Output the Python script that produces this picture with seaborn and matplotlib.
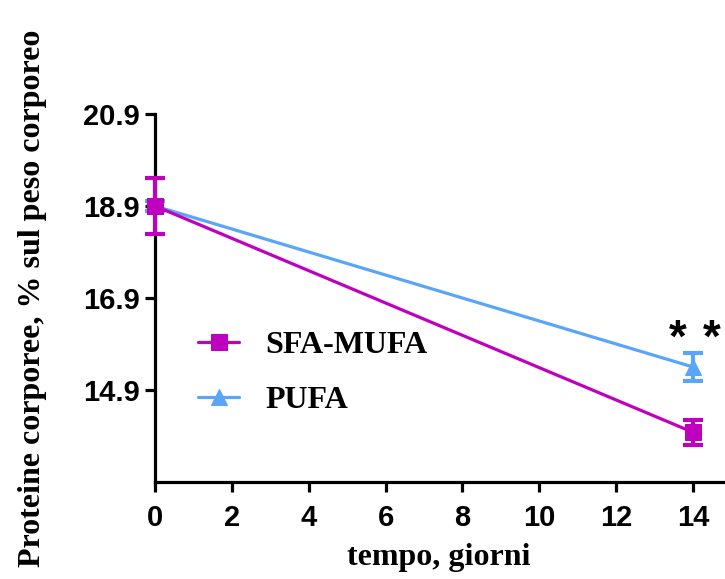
import matplotlib
matplotlib.use("Agg")
import matplotlib.pyplot as plt
import seaborn as sns
import pandas as pd

# Data
days = [0, 14]
sfa_mufa = [18.9, 13.98]
sfa_mufa_err = [0.6, 0.27]
pufa = [18.9, 15.4]
pufa_err = [0.1, 0.3]
series_names = ["SFA-MUFA", "PUFA"]
y_ticks = [14.9, 16.9, 18.9, 20.9]
x_ticks = [0, 2, 4, 6, 8, 10, 12, 14]
star_x = [13.6, 14.5]
star_y = 16.0

c_sfa = "#BF00BF"
c_pufa = "#5AA5F7"

sns.set_theme(style="white")
plt.rcParams['font.family'] = ['Liberation Sans', 'DejaVu Sans']
plt.rcParams.update({'text.color': 'black', 'axes.labelcolor': 'black',
                     'xtick.color': 'black', 'ytick.color': 'black'})

fig = plt.figure(figsize=(7.25, 5.79), dpi=100)
ax = fig.add_axes([155/725, 1-482/579, (723-155)/725, (482-114)/579])

df = pd.DataFrame({
    "day": days * 2,
    "value": pufa + sfa_mufa,
    "err": pufa_err + sfa_mufa_err,
    "series": [series_names[1]] * 2 + [series_names[0]] * 2,
})

# PUFA first (under), then SFA-MUFA
d = df[df.series == "PUFA"]
ax.errorbar(d.day, d.value, yerr=d.err, fmt='none', ecolor=c_pufa, elinewidth=3,
            capsize=7, capthick=3, zorder=2, clip_on=False)
sns.lineplot(data=d, x="day", y="value", ax=ax, color=c_pufa, linewidth=2.3,
             marker="^", markersize=12, markeredgecolor=c_pufa, label="PUFA",
             zorder=3, clip_on=False)
d = df[df.series == "SFA-MUFA"]
ax.errorbar(d.day, d.value, yerr=d.err, fmt='none', ecolor=c_sfa, elinewidth=3,
            capsize=7, capthick=3, zorder=4, clip_on=False)
sns.lineplot(data=d, x="day", y="value", ax=ax, color=c_sfa, linewidth=2.3,
             marker="s", markersize=12, markeredgecolor=c_sfa, label="SFA-MUFA",
             zorder=5, clip_on=False)

ax.set_xlim(0, 14.78)
ax.set_ylim(12.9, 20.9)
ax.set_xticks(x_ticks)
ax.set_yticks(y_ticks)
ax.set_xticklabels([str(t) for t in x_ticks], fontsize=21, fontweight='bold')
ax.set_yticklabels([f"{t:.1f}" for t in y_ticks], fontsize=21, fontweight='bold')
for s in ["top", "right"]:
    ax.spines[s].set_visible(False)
for s in ["left", "bottom"]:
    ax.spines[s].set_linewidth(2.3)
    ax.spines[s].set_color("black")
ax.tick_params(axis='both', which='major', direction='out', length=7, width=2.3,
               color='black', pad=4, bottom=True, left=True)
ax.tick_params(axis='x', pad=9)

serif = ['Liberation Serif', 'DejaVu Serif']
ax.set_xlabel("tempo, giorni", fontsize=23, fontweight='bold', family=serif, labelpad=8)
ax.set_ylabel("Proteine corporee, % sul peso corporeo", fontsize=23, fontweight='bold',
              family=serif)
ax.yaxis.set_label_coords(-0.19, 0.5)

handles, labels = ax.get_legend_handles_labels()
order = [labels.index("SFA-MUFA"), labels.index("PUFA")]
leg = ax.legend([handles[i] for i in order], [labels[i] for i in order],
                loc='upper left', bbox_to_anchor=(0.025, 0.489), frameon=False,
                prop={'family': serif, 'weight': 'bold', 'size': 23},
                handlelength=1.3, handletextpad=0.8, labelspacing=0.8)

for sx in star_x:
    ax.text(sx, star_y, "*", fontsize=33, fontweight='bold', ha='center', va='center')

fig.savefig("out.png", dpi=100)
